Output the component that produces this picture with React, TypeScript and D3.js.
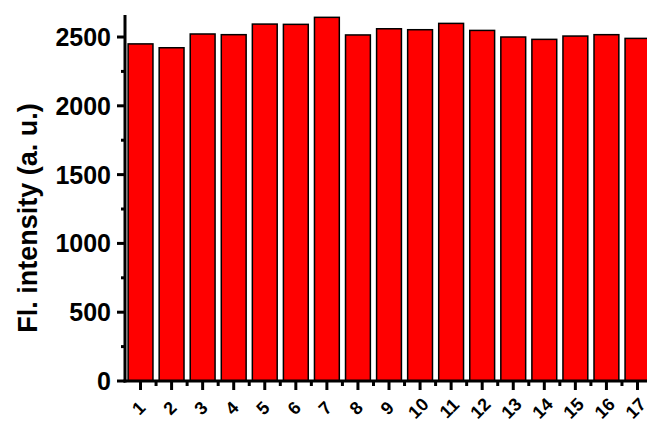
import * as d3 from "d3";

const W = 647;
const H = 421;

const samples = ["1", "2", "3", "4", "5", "6", "7", "8", "9", "10", "11", "12", "13", "14", "15", "16", "17"];
const intensity = [2450, 2422, 2522, 2517, 2594, 2592, 2643, 2515, 2560, 2553, 2599, 2548, 2500, 2483, 2507, 2517, 2490];
const yTicks = [0, 500, 1000, 1500, 2000, 2500];
const yMinor = [250, 750, 1250, 1750, 2250];

const left = 125;
const top = 15;
const bottom = 381;
const step = 31.06;

const x = d3.scaleLinear().domain([0.5, 17.5]).range([left, left + step * 17]);
const y = d3.scaleLinear().domain([0, 2660]).range([bottom, top]);
const barW = step * 0.8;

const font = "'Liberation Sans', Arial, sans-serif";

export default function App() {
  const majorX = samples.map((_, i) => i + 1);
  const minorX = d3.range(1.5, 17.5, 1);
  return (
    <svg width={W} height={H} style={{ position: "absolute", left: 0, top: 0 }}>
      <g>
        {intensity.map((v, i) => (
          <rect
            key={i}
            x={x(i + 1) - barW / 2}
            y={y(v)}
            width={barW}
            height={y(0) - y(v)}
            fill="#ff0000"
            stroke="#000"
            strokeWidth={1.5}
          />
        ))}
      </g>
      {/* y axis */}
      <line x1={left} x2={left} y1={top} y2={bottom + 1.5} stroke="#000" strokeWidth={3} />
      {yTicks.map((t) => (
        <g key={t}>
          <line x1={left - 8} x2={left} y1={y(t)} y2={y(t)} stroke="#000" strokeWidth={3} />
          <text
            x={111}
            y={y(t)}
            dy="0.36em"
            textAnchor="end"
            fontFamily={font}
            fontWeight="bold"
            fontSize={25}
          >
            {t}
          </text>
        </g>
      ))}
      {yMinor.map((t) => (
        <line key={t} x1={left - 4} x2={left} y1={y(t)} y2={y(t)} stroke="#000" strokeWidth={3} />
      ))}
      {/* x axis */}
      <line x1={left - 1.5} x2={W} y1={bottom} y2={bottom} stroke="#000" strokeWidth={3} />
      {majorX.map((t) => (
        <line key={t} x1={x(t)} x2={x(t)} y1={bottom} y2={bottom + 9} stroke="#000" strokeWidth={3} />
      ))}
      {minorX.map((t) => (
        <line key={t} x1={x(t)} x2={x(t)} y1={bottom} y2={bottom + 5} stroke="#000" strokeWidth={3} />
      ))}
      {samples.map((s, i) => (
        <text
          key={s}
          transform={`translate(${x(i + 1) - 2},${408}) rotate(-45)`}
          textAnchor="middle"
          dy="0.36em"
          fontFamily={font}
          fontWeight="bold"
          fontSize={18}
        >
          {s}
        </text>
      ))}
      <text
        transform={`translate(27,${218}) rotate(-90)`}
        textAnchor="middle"
        dy="0.36em"
        fontFamily={font}
        fontWeight="bold"
        fontSize={27}
      >
        Fl. intensity (a. u.)
      </text>
    </svg>
  );
}
